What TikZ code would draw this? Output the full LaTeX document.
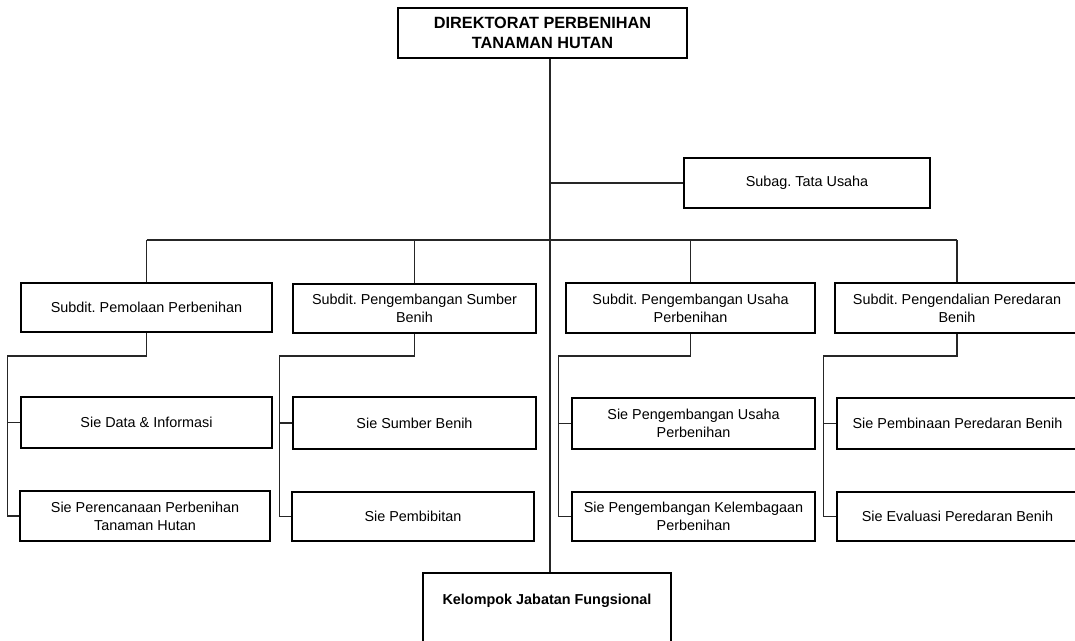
\documentclass[tikz,border=0pt]{standalone}
\usepackage{fontspec}
\setmainfont{Liberation Sans}
\usepackage{tikz}
\usetikzlibrary{calc,positioning}
\tikzset{
  box/.style={draw=black,line width=0.8pt,inner sep=1pt,align=center,fill=white,
    font=\fontsize{10.8}{13.7}\selectfont},
  hbox/.style={box,font=\fontsize{12.2}{15}\selectfont\bfseries},
  wh/.style 2 args={minimum width=#1*0.75pt,minimum height=#2*0.75pt},
  link/.style={draw=black!85,line width=0.95pt},
}
\frenchspacing

\begin{document}
\begin{tikzpicture}[x=0.75pt,y=-0.75pt]
\clip (0,0) rectangle (1075,641);
\fill[white] (0,0) rectangle (1075,641);
% guide lines
\coordinate (spine) at (550,0);
\coordinate (bar) at (0,240);
\coordinate (lane) at (0,356);
% top level
\node[hbox,wh={289}{50}] (dir) at (542.5,33) {DIREKTORAT PERBENIHAN\\TANAMAN HUTAN};
\node[box,wh={246}{50}] (subag) at (807,183) {Subag. Tata Usaha};
% subdit row
\node[box,wh={251}{49}] (sd1) at (146.5,307.5) {Subdit. Pemolaan Perbenihan};
\node[box,wh={243}{49}] (sd2) at (414.5,308.5) {Subdit. Pengembangan Sumber\\Benih};
\node[box,wh={249}{50}] (sd3) at (690.5,308) {Subdit. Pengembangan Usaha\\Perbenihan};
\node[box,wh={244}{50}] (sd4) at (957,308) {Subdit. Pengendalian Peredaran\\Benih};
% sie rows
\node[box,wh={251}{51}] (s11) at (146.5,422.5) {Sie Data \& Informasi};
\node[box,wh={250}{50}] (s12) at (145,516) {Sie Perencanaan Perbenihan\\Tanaman Hutan};
\node[box,wh={243}{52}] (s21) at (414.5,423) {Sie Sumber Benih};
\node[box,wh={242}{49}] (s22) at (413,516.5) {Sie Pembibitan};
\node[box,wh={243}{51}] (s31) at (693.5,423.5) {Sie Pengembangan Usaha\\Perbenihan};
\node[box,wh={243}{49}] (s32) at (693.5,516.5) {Sie Pengembangan Kelembagaan\\Perbenihan};
\node[box,wh={241}{51}] (s41) at (957.5,423.5) {Sie Pembinaan Peredaran Benih};
\node[box,wh={241}{49}] (s42) at (957.5,516.5) {Sie Evaluasi Peredaran Benih};
% fungsional
\node[hbox,wh={248}{76},font=\fontsize{10.8}{18}\selectfont\bfseries] (jf) at (547,611) {Kelompok Jabatan Fungsional\\\mbox{}};
% connectors
\draw[link] (dir.south -| spine) -- (jf.north -| spine);
\draw[link] (spine |- subag.west) -- (subag.west);
\draw[link] (sd1.north |- bar) -- (sd4.north |- bar);
\foreach \c in {1,...,4}{
  \coordinate (r\c) at ($(s\c1.west)+(-13,0)$);
  \draw[link] (sd\c.north) -- (sd\c.north |- bar);
  \draw[link] (sd\c.south) -- (sd\c.south |- lane) -| (r\c |- s\c2.west) -- (s\c2.west);
  \draw[link] (r\c) -- (s\c1.west);
}
\end{tikzpicture}
\end{document}
